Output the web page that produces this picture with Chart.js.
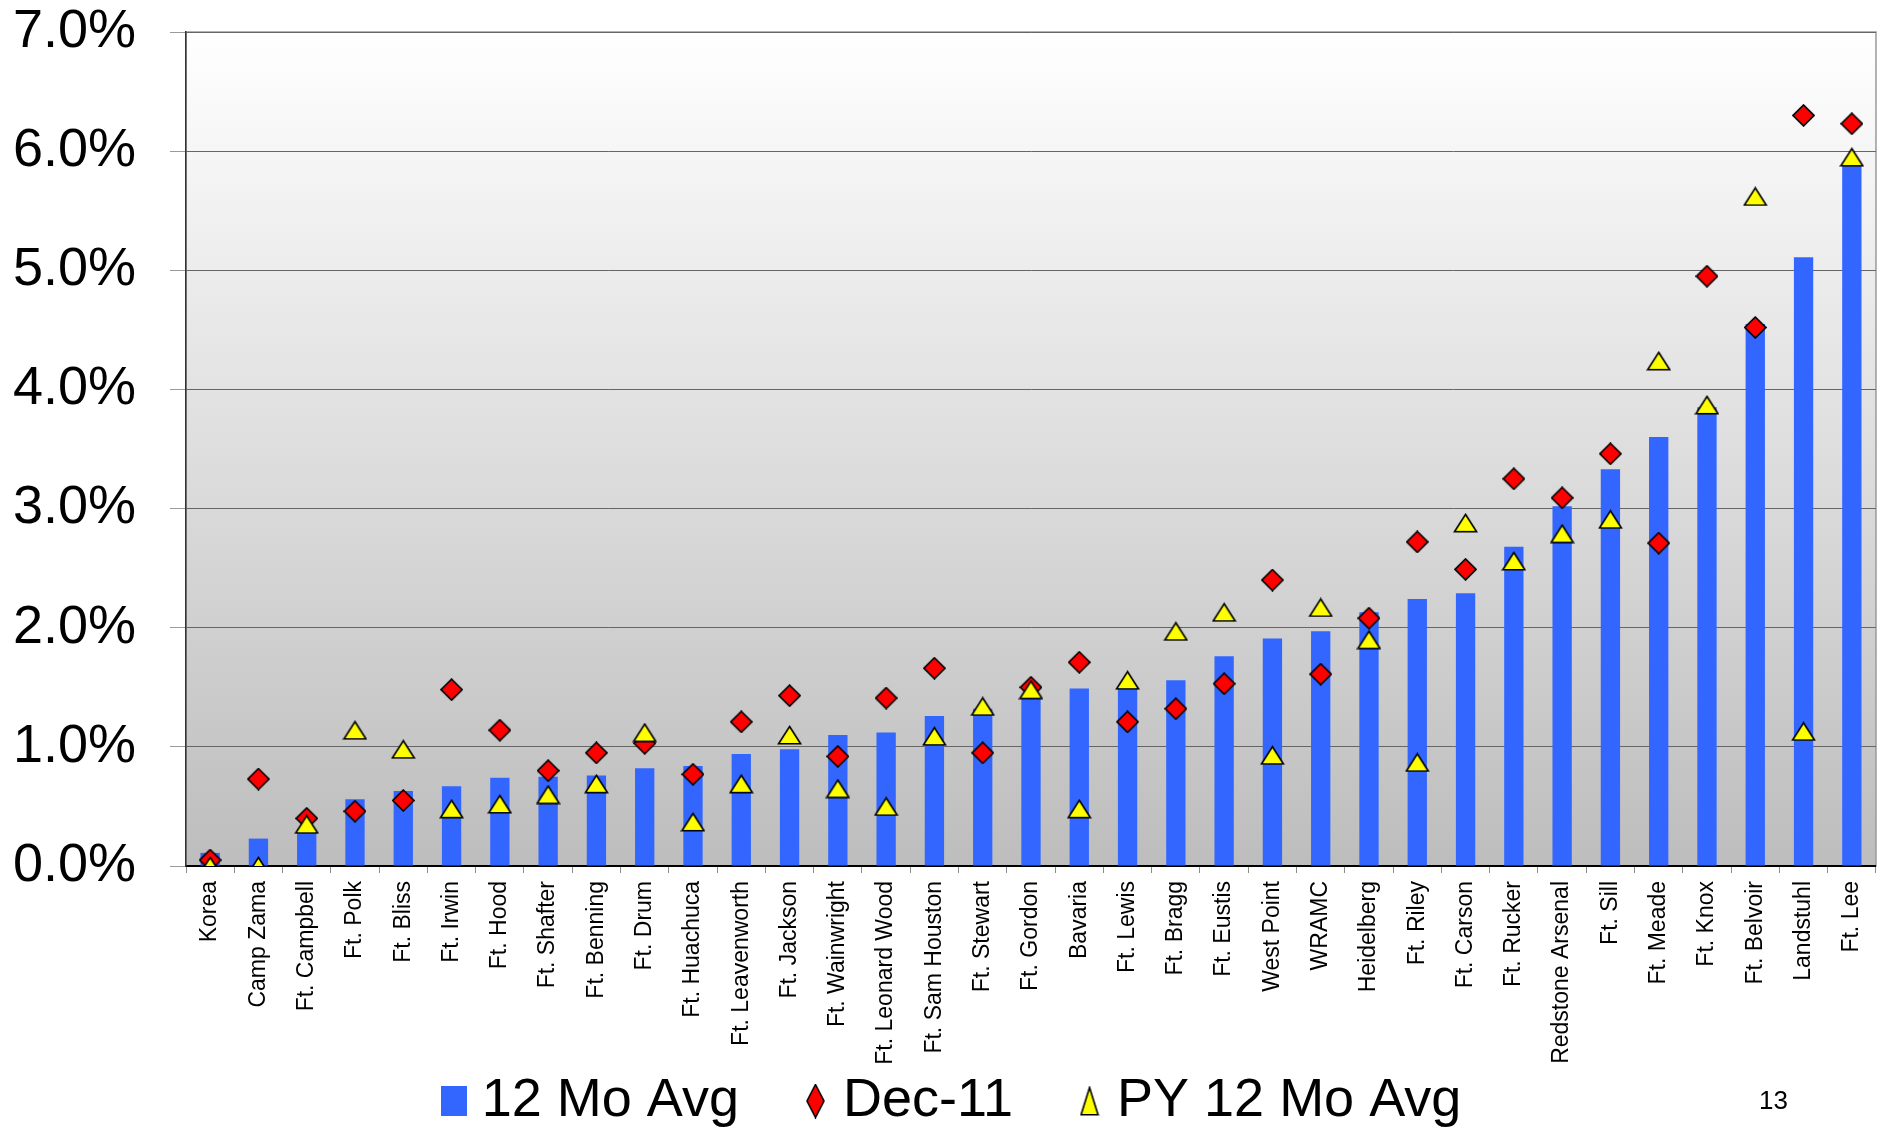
<!DOCTYPE html>
<html>
<head>
<meta charset="utf-8">
<script src="https://cdn.jsdelivr.net/npm/chart.js@4.4.1/dist/chart.umd.min.js"></script>
<style>
  html, body { margin: 0; padding: 0; background: #fff; }
  #wrap { position: relative; width: 1881px; height: 1128px; }
  #pageNum { position: absolute; left: 1759px; top: 1085px; font: 26px "Liberation Sans", Arial, sans-serif; color: #000; }
</style>
</head>
<body>
<div id="wrap">
  <canvas id="rates_chart" width="1881" height="1128"></canvas>
  <div id="pageNum">13</div>
</div>
<script>
// installations, sorted by 12 month average
const installations = [
  'Korea', 'Camp Zama', 'Ft. Campbell', 'Ft. Polk', 'Ft. Bliss', 'Ft. Irwin', 'Ft. Hood',
  'Ft. Shafter', 'Ft. Benning', 'Ft. Drum', 'Ft. Huachuca', 'Ft. Leavenworth', 'Ft. Jackson',
  'Ft. Wainwright', 'Ft. Leonard Wood', 'Ft. Sam Houston', 'Ft. Stewart', 'Ft. Gordon', 'Bavaria',
  'Ft. Lewis', 'Ft. Bragg', 'Ft. Eustis', 'West Point', 'WRAMC', 'Heidelberg', 'Ft. Riley',
  'Ft. Carson', 'Ft. Rucker', 'Redstone Arsenal', 'Ft. Sill', 'Ft. Meade', 'Ft. Knox',
  'Ft. Belvoir', 'Landstuhl', 'Ft. Lee'
];

// values in percent
const avg12Mo = [
  0.11, 0.23, 0.31, 0.56, 0.63, 0.67, 0.74,
  0.75, 0.76, 0.82, 0.84, 0.94, 0.98,
  1.10, 1.12, 1.26, 1.32, 1.42, 1.49,
  1.50, 1.56, 1.76, 1.91, 1.97, 2.13, 2.24,
  2.29, 2.68, 3.02, 3.33, 3.60, 3.85,
  4.55, 5.11, 5.88
];

const dec11 = [
  0.05, 0.73, 0.40, 0.46, 0.55, 1.48, 1.14,
  0.80, 0.95, 1.03, 0.77, 1.21, 1.43,
  0.92, 1.41, 1.66, 0.95, 1.50, 1.71,
  1.21, 1.32, 1.53, 2.40, 1.61, 2.08, 2.72,
  2.49, 3.25, 3.09, 3.46, 2.71, 4.95,
  4.52, 6.30, 6.23
];

const py12MoAvg = [
  0.00, 0.00, 0.35, 1.14, 0.98, 0.48, 0.52,
  0.60, 0.69, 1.12, 0.37, 0.69, 1.10,
  0.65, 0.50, 1.09, 1.34, 1.48, 0.48,
  1.56, 1.97, 2.13, 0.93, 2.17, 1.90, 0.87,
  2.88, 2.56, 2.79, 2.91, 4.24, 3.87,
  5.62, 1.13, 5.95
];

const yTickValues = [0, 1, 2, 3, 4, 5, 6, 7];

const FONT = '"Liberation Sans", Arial, sans-serif';
const LEGEND_GAP = '\u2002   '; // spacing after a legend entry

// small canvases used as marker shapes
function makeMarker(w, h, kind, fill) {
  const c = document.createElement('canvas');
  c.width = w; c.height = h;
  const g = c.getContext('2d');
  g.fillStyle = fill;
  g.strokeStyle = '#000';
  g.lineWidth = 1.6;
  g.lineJoin = 'miter';
  if (kind == 'rect') {
    g.fillRect(0, 0, w, h);
    return c;
  }
  g.beginPath();
  if (kind == 'diamond') {
    g.moveTo(w / 2, 1); g.lineTo(w - 1, h / 2); g.lineTo(w / 2, h - 1); g.lineTo(1, h / 2);
  } else {
    g.moveTo(w / 2, 1.5); g.lineTo(w - 1.5, h - 1.2); g.lineTo(1.5, h - 1.2);
  }
  g.closePath();
  g.fill();
  g.stroke();
  return c;
}

const diamondMark = makeMarker(23, 23, 'diamond', '#ff0000');
const triangleMark = makeMarker(25, 20, 'triangle', '#ffff00');
const legendMarks = [
  makeMarker(26, 30, 'rect', '#3366ff'),
  makeMarker(19, 35, 'diamond', '#ff0000'),
  makeMarker(20, 30, 'triangle', '#ffff00')
];

// gradient plot background + border
const plotBackground = {
  id: 'plotBackground',
  beforeDraw(chart) {
    const {ctx, chartArea: a} = chart;
    const grad = ctx.createLinearGradient(0, a.top, 0, a.bottom);
    grad.addColorStop(0, '#ffffff');
    grad.addColorStop(1, '#bdbdbd');
    ctx.save();
    ctx.fillStyle = grad;
    ctx.fillRect(a.left, a.top, a.right - a.left, a.bottom - a.top);
    ctx.strokeStyle = '#9a9a9a';
    ctx.lineWidth = 1.5;
    ctx.strokeRect(a.left, a.top, a.right - a.left, a.bottom - a.top);
    ctx.restore();
  }
};

const ctx = document.getElementById('rates_chart').getContext('2d');
const chartInstance = new Chart(ctx, {
  type: 'bar',
  data: {
    labels: installations,
    datasets: [
      {
        label: '12 Mo Avg',
        data: avg12Mo,
        backgroundColor: '#3366ff',
        borderWidth: 0,
        barPercentage: 0.4,
        categoryPercentage: 1,
        order: 3
      },
      {
        type: 'line',
        label: 'Dec-11',
        data: dec11,
        showLine: false,
        pointStyle: diamondMark,
        pointRadius: 11,
        order: 2
      },
      {
        type: 'line',
        label: 'PY 12 Mo Avg',
        data: py12MoAvg,
        showLine: false,
        pointStyle: triangleMark,
        pointRadius: 11,
        order: 1
      }
    ]
  },
  options: {
    responsive: false,
    animation: false,
    layout: { autoPadding: false, padding: { left: 0, right: -34, top: 32, bottom: -10 } },
    plugins: {
      tooltip: { enabled: false },
      legend: {
        position: 'bottom',
        labels: {
          usePointStyle: true,
          boxWidth: 1,
          padding: 4,
          color: '#000',
          font: { family: FONT, size: 54 },
          generateLabels(chart) {
            const n = chart.data.datasets.length;
            return chart.data.datasets.map((ds, i) => ({
              text: i < n - 1 ? ds.label + LEGEND_GAP : ds.label,
              fillStyle: 'transparent',
              strokeStyle: 'transparent',
              lineWidth: 0,
              pointStyle: legendMarks[i],
              hidden: false,
              datasetIndex: i
            }));
          }
        }
      }
    },
    scales: {
      x: {
        offset: true,
        grid: {
          offset: true,
          drawOnChartArea: false,
          tickLength: 7,
          color: '#8c8c8c'
        },
        border: { color: '#000', width: 2 },
        ticks: {
          autoSkip: false,
          minRotation: 90,
          maxRotation: 90,
          padding: 8,
          color: '#000',
          font: { family: FONT, size: 23, lineHeight: 0.92 }
        },
        afterFit(scale) {
          scale.height = 204;
        }
      },
      y: {
        min: 0,
        max: 7,
        afterBuildTicks(scale) { scale.ticks = yTickValues.map(v => ({ value: v })); },
        grid: {
          color: '#666',
          lineWidth: 1,
          tickLength: 16,
          tickColor: '#9a9a9a'
        },
        border: { color: '#333', width: 1.5 },
        ticks: {
          padding: 34,
          color: '#000',
          font: { family: FONT, size: 54 },
          callback: v => v.toFixed(1) + '%'
        },
        afterFit(scale) {
          scale.width = 186;
          scale.paddingTop = 0;
        }
      }
    }
  },
  plugins: [plotBackground]
});
</script>
</body>
</html>
